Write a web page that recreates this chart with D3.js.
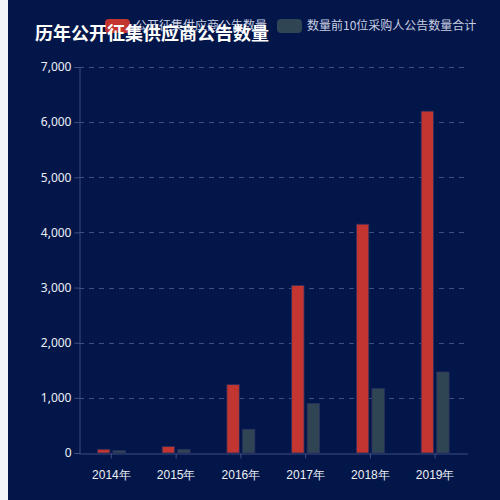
<!DOCTYPE html>
<html>
<head>
<meta charset="utf-8">
<script src="https://cdn.jsdelivr.net/npm/d3@7"></script>
<style>
  html, body { margin: 0; padding: 0; background: #f2f4f8; }
  #chart { position: absolute; left: 8px; top: 0; width: 492px; height: 500px; background: #02164a; }
  svg { display: block; font-family: "Microsoft YaHei", "Noto Sans CJK SC", sans-serif; }
</style>
</head>
<body>
<div id="chart"></div>
<script>
// chart data
var years = ["2014年", "2015年", "2016年", "2017年", "2018年", "2019年"];
var seriesNames = ["公开征集供应商公告数量", "数量前10位采购人公告数量合计"];
var supplierCounts = [67, 116, 1240, 3040, 4150, 6200];
var top10Counts = [43, 67, 430, 900, 1170, 1470];
var yTicks = [0, 1000, 2000, 3000, 4000, 5000, 6000, 7000];
var colors = ["#c23531", "#2f4554"];

var W = 500, H = 500;
var margin = {top: 67, right: 32, bottom: 47, left: 79};

var svg = d3.select("body").append("svg")
    .attr("width", W)
    .attr("height", H)
    .style("position", "absolute")
    .style("left", 0)
    .style("top", 0);

var x = d3.scaleBand()
    .domain(years)
    .range([margin.left, W - margin.right - 0.5]);

var inner = d3.scaleBand()
    .domain([0, 1])
    .range([-14, 14])
    .paddingInner(0.2);

var y = d3.scaleLinear()
    .domain([0, 7000])
    .range([H - margin.bottom, margin.top]);

var axisColor = "#3e4f80";
var fmt = d3.format(",");

// grid lines
svg.append("g")
    .selectAll("line")
    .data(yTicks.slice(1))
    .enter()
    .append("line")
    .attr("x1", margin.left)
    .attr("x2", W - margin.right)
    .attr("y1", function(d) { return Math.round(y(d)) + 0.5; })
    .attr("y2", function(d) { return Math.round(y(d)) + 0.5; })
    .attr("stroke", axisColor)
    .attr("stroke-dasharray", "5,5");

// y axis
var yAxis = svg.append("g")
    .attr("transform", "translate(" + (margin.left + 0.5) + ",0)")
    .call(d3.axisLeft(y).tickValues(yTicks).tickSize(5).tickPadding(3).tickFormat(fmt));
yAxis.select(".domain").attr("stroke", axisColor);
yAxis.selectAll(".tick line").attr("stroke", axisColor);
yAxis.selectAll("text")
    .attr("fill", "#eef0f6")
    .style("font-size", "12px")
    .style("font-family", "\"Noto Sans\", sans-serif");

// x axis
var xAxis = svg.append("g")
    .attr("transform", "translate(0," + (y(0) + 0.5) + ")")
    .call(d3.axisBottom(x).tickSize(5).tickSizeOuter(0).tickPadding(12));
xAxis.select(".domain").attr("stroke", axisColor);
xAxis.selectAll(".tick line").attr("stroke", axisColor);
xAxis.selectAll("text")
    .attr("fill", "#eef0f6")
    .style("font-size", "12px");

// bars
var allSeries = [supplierCounts, top10Counts];
allSeries.forEach(function(values, s) {
    svg.append("g")
        .selectAll("rect")
        .data(values)
        .enter()
        .append("rect")
        .attr("x", function(d, i) { return x(years[i]) + x.bandwidth() / 2 + inner(s); })
        .attr("width", inner.bandwidth())
        .attr("y", function(d) { return y(d); })
        .attr("height", function(d) { return y(0) - y(d); })
        .attr("fill", colors[s])
        .attr("stroke", "#2a2f5e")
        .attr("stroke-width", 0.8);
});

// legend
var legendX = [105, 277];
var legend = svg.append("g");
seriesNames.forEach(function(name, s) {
    legend.append("rect")
        .attr("x", legendX[s])
        .attr("y", 19)
        .attr("width", 25)
        .attr("height", 14)
        .attr("rx", 4)
        .attr("fill", colors[s]);
    legend.append("text")
        .attr("x", legendX[s] + 30)
        .attr("y", 30)
        .attr("fill", "#c8cde0")
        .style("font-size", "12px")
        .text(name);
});

// title, drawn over the legend like the original
svg.append("text")
    .attr("x", 35)
    .attr("y", 40)
    .attr("fill", "#ffffff")
    .style("font-size", "18px")
    .style("font-weight", "bold")
    .text("历年公开征集供应商公告数量");
</script>
</body>
</html>
